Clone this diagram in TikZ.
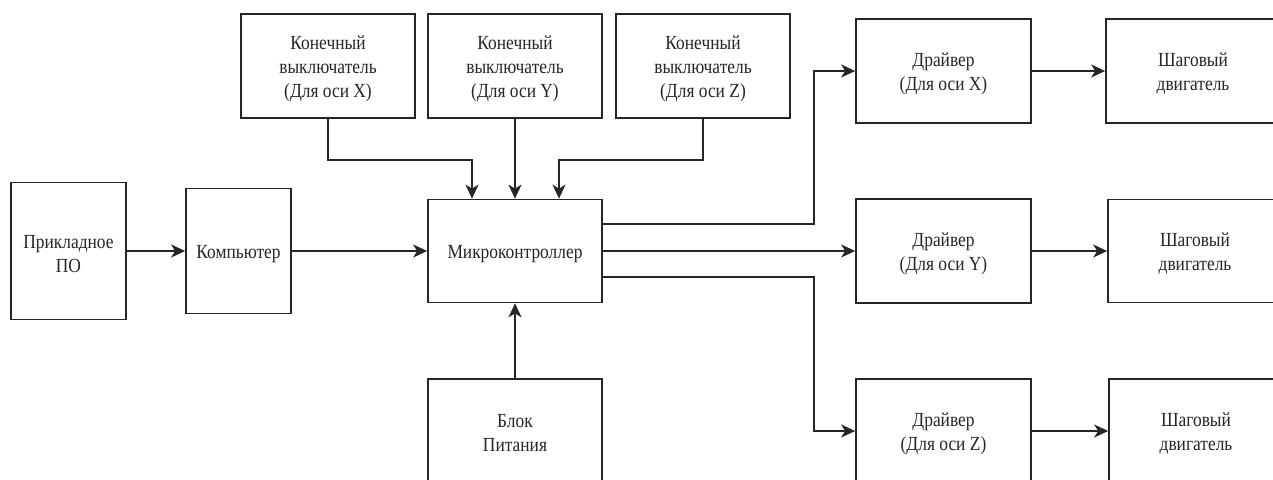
\documentclass[tikz,border=0pt]{standalone}
\usepackage{fontspec}
\setmainfont{Liberation Serif}[FakeStretch=0.87]
\usetikzlibrary{arrows.meta,calc}
\definecolor{ink}{HTML}{262626}
\tikzset{
  blk/.style={draw=ink, line width=1.7pt, fill=white, inner sep=0pt},
  txt/.style={align=center, text=ink, inner sep=0pt, yshift=-3pt,
              font=\fontsize{20}{24}\selectfont},
  conn/.style={draw=ink, line width=1.7pt, -{Stealth[length=14pt,width=13pt,inset=4pt]}}
}
\begin{document}
\begin{tikzpicture}[x=1pt,y=-1pt]
\useasboundingbox (0,0) rectangle (1273,479);
\fill[white] (0,0) rectangle (1273,479);
\clip (0,0) rectangle (1273,479);

% left chain
\node[blk, minimum width=115pt, minimum height=137pt, label={[txt]center:Прикладное\\ПО}] (po) at (68.5,251) {};
\node[blk, minimum width=105pt, minimum height=125pt, label={[txt]center:Компьютер}] (pc) at (238.5,251) {};

% limit switches
\node[blk, minimum width=174pt, minimum height=104pt, label={[txt]center:Конечный\\выключатель\\(Для оси X)}] (lsx) at (328,66) {};
\node[blk, minimum width=174pt, minimum height=104pt, label={[txt]center:Конечный\\выключатель\\(Для оси Y)}] (lsy) at (515,66) {};
\node[blk, minimum width=174pt, minimum height=104pt, label={[txt]center:Конечный\\выключатель\\(Для оси Z)}] (lsz) at (703,66) {};

% controller and power supply
\node[blk, minimum width=174pt, minimum height=103pt, label={[txt]center:Микроконтроллер}] (mcu) at (515,251) {};
\node[blk, minimum width=174pt, minimum height=103pt, label={[txt]center:Блок\\Питания}] (pwr) at (515,430.5) {};

% drivers
\node[blk, minimum width=175pt, minimum height=104pt, label={[txt]center:Драйвер\\(Для оси X)}] (drx) at (943.5,71) {};
\node[blk, minimum width=175pt, minimum height=104pt, label={[txt]center:Драйвер\\(Для оси Y)}] (dry) at (943.5,251) {};
\node[blk, minimum width=175pt, minimum height=104pt, label={[txt]center:Драйвер\\(Для оси Z)}] (drz) at (943.5,431) {};

% stepper motors
\node[blk, minimum width=174pt, minimum height=104pt, label={[txt]center:Шаговый\\двигатель}] (stx) at (1193,71) {};
\node[blk, minimum width=174pt, minimum height=103pt, label={[txt]center:Шаговый\\двигатель}] (sty) at (1195,251) {};
\node[blk, minimum width=174pt, minimum height=104pt, label={[txt]center:Шаговый\\двигатель}] (stz) at (1196,431) {};

% connectors
\draw[conn] (po.east) -- (pc.west);
\draw[conn] (pc.east) -- (mcu.west);
\draw[conn] (lsx.south) -- ++(0,41) -| ($(mcu.north)+(-43,0)$);
\draw[conn] (lsy.south) -- (mcu.north);
\draw[conn] (lsz.south) -- ++(0,41) -| ($(mcu.north)+(44,0)$);
\draw[conn] (pwr.north) -- (mcu.south);

\coordinate (bx) at ($(drx.west)+(-41,0)$);
\coordinate (bz) at ($(drz.west)+(-41,0)$);
\draw[conn] ($(mcu.north east)+(0,25)$) -| (bx) -- (drx.west);
\draw[conn] (mcu.east) -- (dry.west);
\draw[conn] ($(mcu.north east)+(0,78)$) -| (bz) -- (drz.west);

\draw[conn] (drx.east) -- (stx.west);
\draw[conn] (dry.east) -- (sty.west);
\draw[conn] (drz.east) -- (stz.west);
\end{tikzpicture}
\end{document}
